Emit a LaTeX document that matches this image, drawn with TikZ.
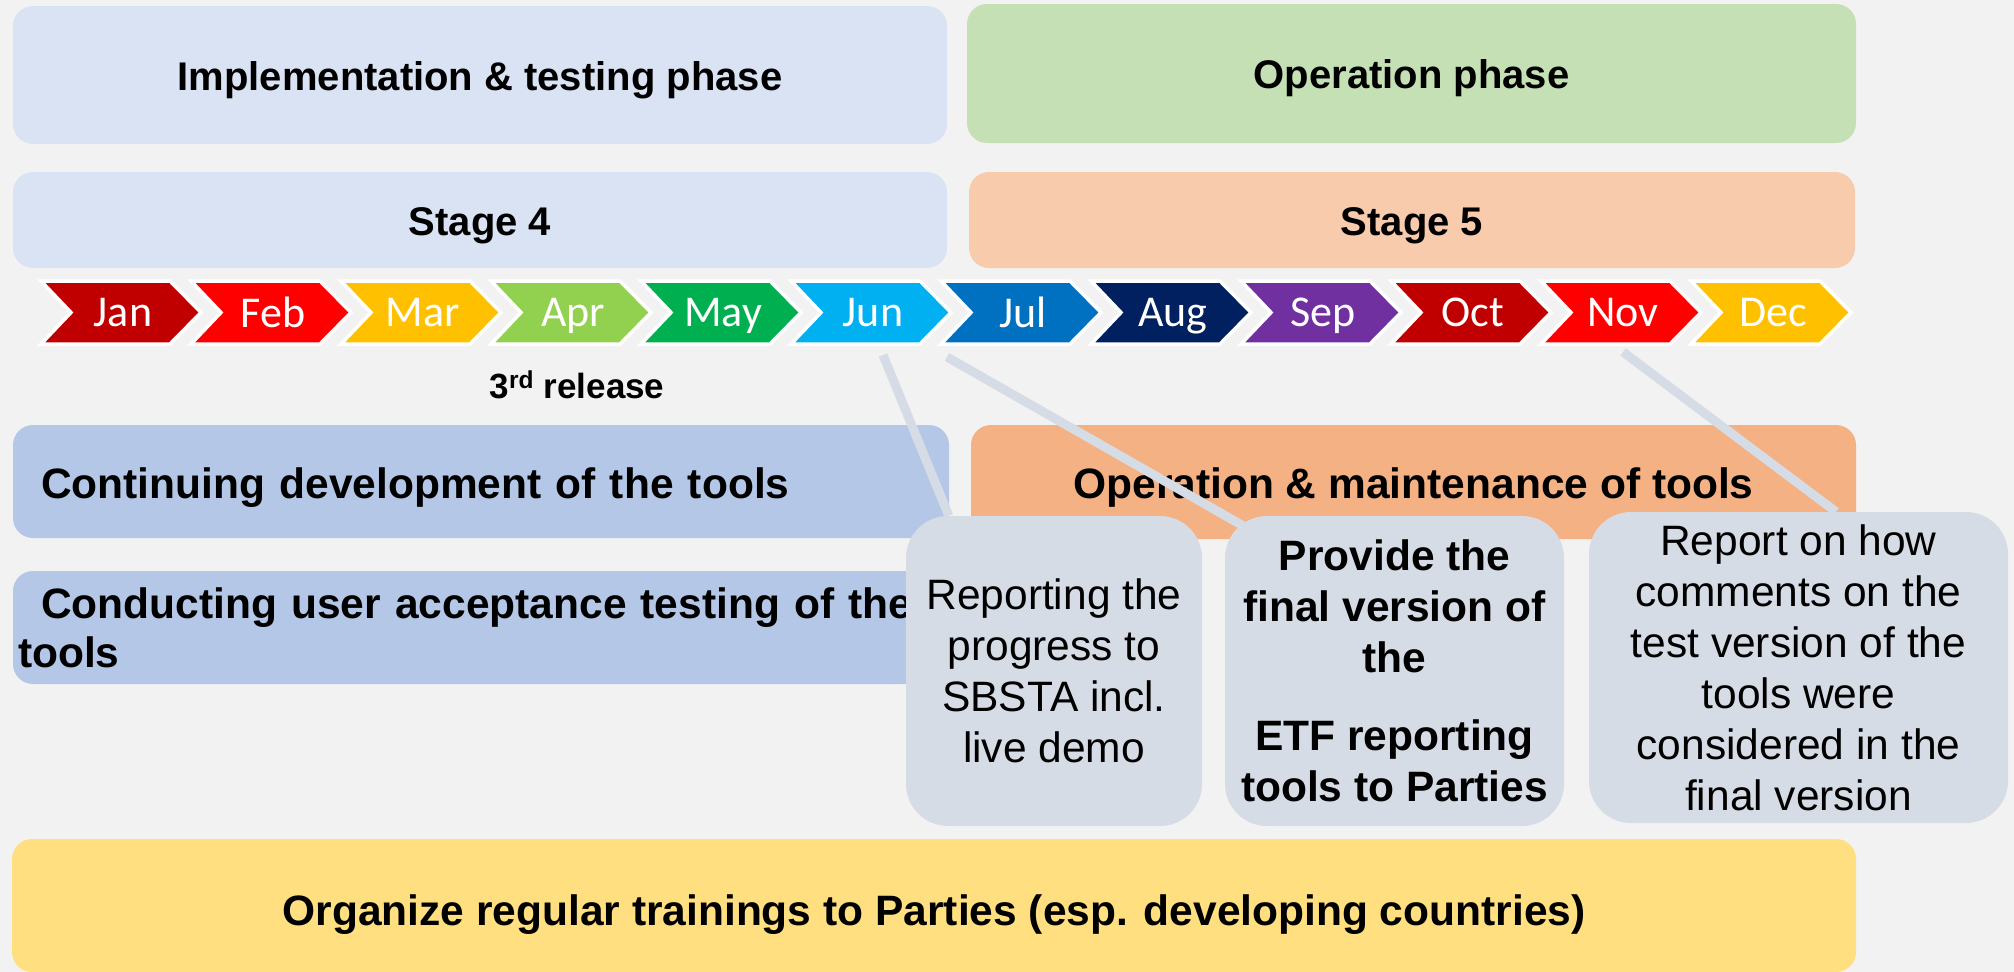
\documentclass[tikz,border=0pt]{standalone}
\usepackage{fontspec}
\setmainfont{Liberation Sans}
\newfontfamily\monthfont{Carlito}

\definecolor{bggray}{HTML}{F2F2F2}
\definecolor{implblue}{HTML}{DAE3F3}
\definecolor{opgreen}{HTML}{C5E0B4}
\definecolor{stagepeach}{HTML}{F8CBAD}
\definecolor{devblue}{HTML}{B4C7E7}
\definecolor{maintorange}{HTML}{F4B183}
\definecolor{notegray}{HTML}{D6DCE5}
\definecolor{trainyellow}{HTML}{FFDF80}
\definecolor{mdarkred}{HTML}{C00000}
\definecolor{mred}{HTML}{FF0000}
\definecolor{mgold}{HTML}{FFC000}
\definecolor{mlime}{HTML}{92D050}
\definecolor{mgreen}{HTML}{00B050}
\definecolor{msky}{HTML}{00B0F0}
\definecolor{mblue}{HTML}{0070C0}
\definecolor{mnavy}{HTML}{002060}
\definecolor{mpurple}{HTML}{7030A0}

\pgfdeclarelayer{front}
\pgfsetlayers{main,front}

\begin{document}
\begin{tikzpicture}[x=1pt, y=-1pt,
    box/.style={rectangle, rounded corners=20pt, inner sep=0pt, text depth=0pt,
        font=\fontsize{40}{46}\selectfont\bfseries},
    bar/.style={rectangle, rounded corners=20pt, inner sep=0pt,
        font=\fontsize{42.5}{49}\selectfont\bfseries},
    note/.style={rectangle, rounded corners=42pt, fill=notegray, inner sep=0pt, align=center,
        font=\fontsize{42.5}{51}\selectfont},
    link/.style={draw=notegray, line width=9pt},
    month/.style={draw=white, line width=3.5pt},
    monthtext/.style={text=white, text depth=0pt, font=\fontsize{44}{50}\selectfont\monthfont}]

    \useasboundingbox (0,0) rectangle (2014,972);
    \fill[bggray] (0,0) rectangle (2014,972);

    % phases and stages
    \node[box, fill=implblue, minimum width=934pt, minimum height=138pt, text height=30pt] (impl) at (480,75) {Implementation \& testing phase};
    \node[box, fill=opgreen, minimum width=889pt, minimum height=139pt, text height=29pt] (oper) at (1411.5,73.5) {Operation phase};
    \node[box, fill=implblue, minimum width=934pt, minimum height=96pt, text height=30pt] (stage4) at (480,220) {Stage 4};
    \node[box, fill=stagepeach, minimum width=886pt, minimum height=96pt, text height=30pt] (stage5) at (1412,220) {Stage 5};

    % months
    \foreach \mon/\col [count=\i from 0] in {Jan/mdarkred, Feb/mred, Mar/mgold, Apr/mlime, May/mgreen, Jun/msky,
                                            Jul/mblue, Aug/mnavy, Sep/mpurple, Oct/mdarkred, Nov/mred, Dec/mgold} {
        \filldraw[month, fill=\col] (41+150*\i,281) -- ++(129,0) -- ++(31,31.5) -- ++(-31,31.5)
            -- ++(-129,0) -- ++(30,-31.5) -- cycle;
        \node[monthtext] (m\i) at (123+150*\i,312.5) {\mon};
    }

    \node[anchor=base, font=\fontsize{35}{40}\selectfont\bfseries] (release) at (577,398) {3\textsuperscript{rd} release};

    % activities
    \node[bar, fill=devblue, minimum width=936pt, minimum height=113pt, inner xsep=28pt,
        text width=880pt, align=left, text height=33pt, text depth=0pt] (dev) at (481,481.5) {Continuing development of the tools};
    \node[bar, fill=maintorange, minimum width=885pt, minimum height=114pt, text height=32pt, text depth=0pt] (maint) at (1413.5,482) {Operation \& maintenance of tools};
    \node[bar, fill=devblue, minimum width=936pt, minimum height=113pt, inner xsep=5pt,
        text width=926pt, align=left] (uat) at (481,627.5) {\hspace*{23pt}Conducting user acceptance testing of the\\tools};
    \node[bar, fill=trainyellow, minimum width=1844pt, minimum height=133pt, text height=40pt, text depth=0pt] (train) at (934,905.5) {Organize regular trainings to Parties (esp. developing countries)};

    % notes
    \begin{pgfonlayer}{front}
    \node[note, minimum width=296pt, minimum height=310pt] (demo) at (1054,671) {Reporting the\\progress to\\SBSTA incl.\\live demo};
    \node[note, font=\fontsize{42.5}{51}\selectfont\bfseries, minimum width=339pt, minimum height=310pt] (final) at (1394.5,671) {Provide the\\final version of\\the\\[27pt]ETF reporting\\tools to Parties};
    \node[note, minimum width=419pt, minimum height=311pt] (comments) at (1798.5,667.5) {Report on how\\comments on the\\test version of the\\tools were\\considered in the\\final version};
    \end{pgfonlayer}

    \coordinate (l1) at (883,355);
    \coordinate (l2) at (947,357);
    \coordinate (l3) at (1623,352);
    \draw[link] (l1) -- ([shift={(43,0)}]demo.north west);
    \draw[link] (l2) -- ([shift={(20,11)}]final.north west);
    \draw[link] (l3) -- ([shift={(37.5,0)}]comments.north);
\end{tikzpicture}
\end{document}
